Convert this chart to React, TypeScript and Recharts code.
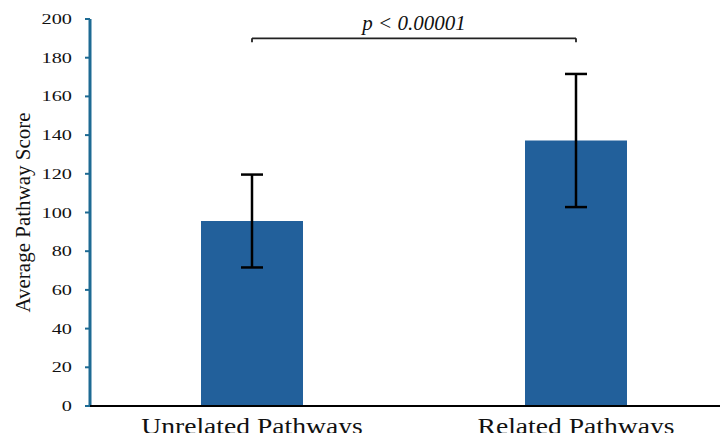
import {
  BarChart,
  Bar,
  XAxis,
  YAxis,
  ErrorBar,
  ReferenceLine,
} from "recharts";

const categories = ["Unrelated Pathways", "Related Pathways"];
const means = [95.6, 137.2];
const errors = [24, 34.4];
const yTicks = [0, 20, 40, 60, 80, 100, 120, 140, 160, 180, 200];
const bracketY = 190;
const bracketTickY = 188;
const pLabel = "p < 0.00001";

const chartData = categories.map((name, i) => ({
  name,
  mean: means[i],
  err: errors[i],
}));

const FONT = "Liberation Serif, Tinos, DejaVu Serif, serif";

// the source image is a bit stretched sideways, so text gets widened too
const YTick = (props: any) => {
  const { x, y, payload } = props;
  return (
    <g transform={`translate(${x},${y}) scale(1.45,1)`}>
      <text
        x={0}
        y={0}
        dy="0.36em"
        textAnchor="end"
        style={{ fontFamily: FONT, fontSize: 14 }}
        fill="#111"
      >
        {payload.value}
      </text>
    </g>
  );
};

const XTick = (props: any) => {
  const { x, payload } = props;
  // baseline sits just above the bottom edge, like the reference
  return (
    <g transform={`translate(${x},434) scale(1.2,1)`}>
      <text
        x={0}
        y={0}
        textAnchor="middle"
        style={{ fontFamily: FONT, fontSize: 23 }}
        fill="#111"
      >
        {payload.value}
      </text>
    </g>
  );
};

const YLabel = (props: any) => {
  const { viewBox } = props;
  const x = viewBox.x + 23;
  const y = viewBox.y + viewBox.height / 2;
  return (
    <text
      x={x}
      y={y}
      transform={`rotate(-90, ${x}, ${y})`}
      textAnchor="middle"
      dominantBaseline="central"
      style={{ fontFamily: FONT, fontSize: 21 }}
      fill="#111"
    >
      Average Pathway Score
    </text>
  );
};

const App = () => {
  return (
    <div
      style={{
        margin: -8,
        width: 728,
        height: 441,
        overflow: "hidden",
        background: "#fff",
        fontFamily: FONT,
      }}
    >
      <BarChart
        width={738}
        height={441}
        data={chartData}
        margin={{ top: 19, right: 0, left: 0, bottom: 0 }}
      >
        {/* Y Axis */}
        <YAxis
          domain={[0, 200]}
          ticks={yTicks}
          width={90}
          stroke="#1D6A93"
          axisLine={{ stroke: "#1D6A93", strokeWidth: 3 }}
          tickLine={{ stroke: "#1D6A93", strokeWidth: 2 }}
          tickSize={5}
          tickMargin={13}
          tick={<YTick />}
          label={<YLabel />}
        />

        {/* X Axis */}
        <XAxis
          dataKey="name"
          height={35}
          axisLine={{ stroke: "#000", strokeWidth: 2 }}
          tickLine={false}
          tick={<XTick />}
        />

        {/* Bars */}
        <Bar
          dataKey="mean"
          fill="#22609B"
          barSize={102}
          isAnimationActive={false}
        >
          <ErrorBar
            dataKey="err"
            direction="y"
            width={11}
            stroke="#000"
            strokeWidth={2.5}
            isAnimationActive={false}
          />
        </Bar>

        {/* Significance bracket */}
        <ReferenceLine
          segment={[
            { x: categories[0], y: bracketY },
            { x: categories[1], y: bracketY },
          ]}
          stroke="#222"
          strokeWidth={1.8}
          label={{
            value: pLabel,
            position: "top",
            offset: 8,
            fontSize: 21,
            fill: "#111",
            fontFamily: FONT,
            fontStyle: "italic",
          }}
        />
        <ReferenceLine
          segment={[
            { x: categories[0], y: bracketY },
            { x: categories[0], y: bracketTickY },
          ]}
          stroke="#222"
          strokeWidth={1.8}
        />
        <ReferenceLine
          segment={[
            { x: categories[1], y: bracketY },
            { x: categories[1], y: bracketTickY },
          ]}
          stroke="#222"
          strokeWidth={1.8}
        />
      </BarChart>
    </div>
  );
};

export default App;
